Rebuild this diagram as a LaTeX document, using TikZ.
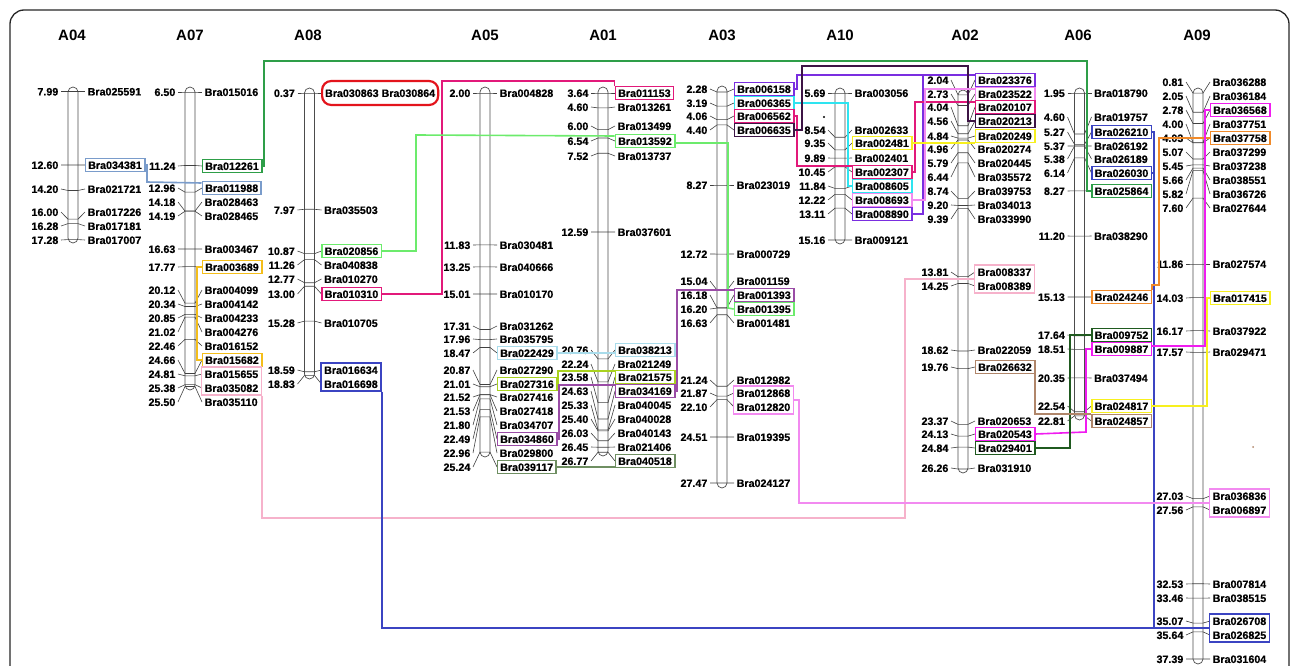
\documentclass[tikz,border=0pt]{standalone}
\usepackage{fontspec}
\setmainfont{Liberation Sans}
\newfontfamily\labfont{Liberation Sans}[FakeBold=0.7]
\usetikzlibrary{fit}
\definecolor{cSteel}{HTML}{7A9CCB}
\definecolor{cGreen}{HTML}{2E9E48}
\definecolor{cLGreen}{HTML}{6CEB6C}
\definecolor{cCrimson}{HTML}{E2197A}
\definecolor{cRed}{HTML}{E3141C}
\definecolor{cBlue}{HTML}{3B44C2}
\definecolor{cGold}{HTML}{F4BE1A}
\definecolor{cLPink}{HTML}{F6B2CB}
\definecolor{cLBlue}{HTML}{A9DCEB}
\definecolor{cYGreen}{HTML}{A9D21F}
\definecolor{cPurple}{HTML}{9A4CA6}
\definecolor{cGGreen}{HTML}{6F8F62}
\definecolor{cPlum}{HTML}{3D1445}
\definecolor{cBViolet}{HTML}{7A2EE0}
\definecolor{cCyan}{HTML}{2EE4F0}
\definecolor{cViolet}{HTML}{F28AF0}
\definecolor{cYellow}{HTML}{F7F01E}
\definecolor{cOrange}{HTML}{F08A2A}
\definecolor{cMag}{HTML}{F01CF0}
\definecolor{cDGreen}{HTML}{1F5A1F}
\definecolor{cBrown}{HTML}{B0866A}
\tikzset{
  lab/.style={anchor=west,inner xsep=3pt,inner ysep=2.7pt,text height=7.9pt,text depth=0pt,font=\labfont\bfseries\fontsize{10.7}{12}\selectfont},
  num/.style={anchor=east,inner xsep=3pt,inner ysep=2.7pt,text height=7.9pt,text depth=0pt,font=\labfont\bfseries\fontsize{10.7}{12}\selectfont},
  tick/.style={line width=0.6pt,draw=black!75},
  chrbar/.style={line width=0.7pt,draw=black!70,rounded corners=5pt},
  bx/.style={draw=#1,line width=1.5pt},
  pairbx/.style={draw=#1,line width=1.5pt,inner sep=0pt},
  cn/.style={draw=#1,line width=1.6pt},
  ttl/.style={font=\bfseries\fontsize{15}{17}\selectfont},
}
\newcommand{\setchr}[4]{\def\chX{#1}\def\chY{#2}\def\chV{#3}\def\chS{#4}}
\newcommand{\drawchr}[2]{\draw[chrbar] (\chX-5,#1) rectangle (\chX+5,#2);}
\newcommand{\mkt}[5][]{%
  \pgfmathsetmacro{\chYc}{\chY+(#2-\chV)*\chS}%
  \draw[tick] (\chX-12,#3) -- (\chX-5,\chYc) -- (\chX+5,\chYc) -- (\chX+12,#3);%
  \node[num] (n#4) at (\chX-11.5,#3) {#2};%
  \node[lab,#1] (#4) at (\chX+11.5,#3) {#5};}
\newcommand{\mk}[4][]{\mkt[#1]{#2}{#3}{#4}{#4}}
\begin{document}
\begin{tikzpicture}[x=1pt,y=-1pt]
\useasboundingbox (0,0) rectangle (1292,666);
\clip (0,0) rectangle (1292,666);
\draw[line width=1.3pt,draw=black!85,rounded corners=14pt] (10,10) rectangle (1289,720);
% titles
\node[ttl] (tA04) at (72,35) {A04};
\node[ttl] (tA07) at (190,35) {A07};
\node[ttl] (tA08) at (308,35) {A08};
\node[ttl] (tA05) at (485,35) {A05};
\node[ttl] (tA01) at (603,35) {A01};
\node[ttl] (tA03) at (722,35) {A03};
\node[ttl] (tA10) at (840,35) {A10};
\node[ttl] (tA02) at (965,35) {A02};
\node[ttl] (tA06) at (1078,35) {A06};
\node[ttl] (tA09) at (1197,35) {A09};
% A04
\setchr{73}{91.5}{7.99}{15.94}
\drawchr{87}{243}
\mk{7.99}{91.5}{Bra025591}
\mk[bx=cSteel]{12.60}{165}{Bra034381}
\mk{14.20}{189}{Bra021721}
\mk{16.00}{212}{Bra017226}
\mk{16.28}{226}{Bra017181}
\mk{17.28}{240}{Bra017007}
% A07
\setchr{190}{92}{6.50}{15.5}
\drawchr{87}{390}
\mk{6.50}{92}{Bra015016}
\mk[bx=cGreen]{11.24}{166}{Bra012261}
\mk[bx=cSteel]{12.96}{188}{Bra011988}
\mk{14.18}{202}{Bra028463}
\mk{14.19}{216}{Bra028465}
\mk{16.63}{249}{Bra003467}
\mk[bx=cGold]{17.77}{267}{Bra003689}
\mk{20.12}{290}{Bra004099}
\mk{20.34}{304}{Bra004142}
\mk{20.85}{318}{Bra004233}
\mk{21.02}{332}{Bra004276}
\mk{22.46}{346}{Bra016152}
\mk[bx=cGold]{24.66}{360}{Bra015682}
\mk{24.81}{374}{Bra015655}
\mk{25.38}{388}{Bra035082}
\mk{25.50}{402}{Bra035110}
\node[pairbx=cLPink,fit=(Bra015655)(Bra035082)] (pkA07) {};
% A08
\setchr{309.5}{93}{0.37}{15.3}
\drawchr{88}{379}
\mkt[draw=cRed,line width=2.2pt,rounded corners=9pt,inner ysep=8pt]{0.37}{93}{Bra030863}{Bra030863 Bra030864}
\mk{7.97}{210}{Bra035503}
\mk[bx=cLGreen]{10.87}{251}{Bra020856}
\mk{11.26}{265}{Bra040838}
\mk{12.77}{279}{Bra010270}
\mk[bx=cCrimson]{13.00}{294}{Bra010310}
\mk{15.28}{323}{Bra010705}
\mk{18.59}{370}{Bra016634}
\mk{18.83}{384}{Bra016698}
\node[pairbx=cBlue,fit=(Bra016634)(Bra016698)] (bluA08) {};
% A05
\setchr{485}{93}{2.00}{15.45}
\drawchr{87}{457}
\mk{2.00}{93}{Bra004828}
\mk{11.83}{245}{Bra030481}
\mk{13.25}{267}{Bra040666}
\mk{15.01}{294}{Bra010170}
\mk{17.31}{326}{Bra031262}
\mk{17.96}{339}{Bra035795}
\mk[bx=cLBlue]{18.47}{353}{Bra022429}
\mk{20.87}{370}{Bra027290}
\mk[bx=cYGreen]{21.01}{384}{Bra027316}
\mk{21.52}{397}{Bra027416}
\mk{21.53}{411}{Bra027418}
\mk{21.80}{425}{Bra034707}
\mk[bx=cPurple]{22.49}{439}{Bra034860}
\mk{22.96}{453}{Bra029800}
\mk[bx=cGGreen]{25.24}{467}{Bra039117}
% A01
\setchr{603}{93}{3.64}{15.53}
\drawchr{87}{456}
\mk[bx=cCrimson]{3.64}{93}{Bra011153}
\mk{4.60}{107}{Bra013261}
\mk{6.00}{126}{Bra013499}
\mk[bx=cLGreen]{6.54}{141}{Bra013592}
\mk{7.52}{156}{Bra013737}
\mk{12.59}{232}{Bra037601}
\mk[bx=cLBlue]{20.76}{350}{Bra038213}
\mk{22.24}{364}{Bra021249}
\mk[bx=cYGreen]{23.58}{377}{Bra021575}
\mk[bx=cPurple]{24.63}{391}{Bra034169}
\mk{25.33}{405}{Bra040045}
\mk{25.40}{419}{Bra040028}
\mk{26.03}{433}{Bra040143}
\mk{26.45}{447}{Bra021406}
\mk[bx=cGGreen]{26.77}{461}{Bra040518}
% A03
\setchr{722}{185}{8.27}{15.52}
\drawchr{86}{488}
\mk[bx=cBViolet]{2.28}{89}{Bra006158}
\mk[bx=cCyan]{3.19}{103}{Bra006365}
\mk[bx=cCrimson]{4.06}{116}{Bra006562}
\mk[bx=cPlum]{4.40}{130}{Bra006635}
\mk{8.27}{185}{Bra023019}
\mk{12.72}{254}{Bra000729}
\mk{15.04}{281}{Bra001159}
\mk[bx=cPurple]{16.18}{295}{Bra001393}
\mk[bx=cLGreen]{16.20}{309}{Bra001395}
\mk{16.63}{323}{Bra001481}
\mk{21.24}{380}{Bra012982}
\mk{21.87}{393}{Bra012868}
\mk{22.10}{407}{Bra012820}
\mk{24.51}{437}{Bra019395}
\mk{27.47}{483}{Bra024127}
\node[pairbx=cViolet,fit=(Bra012868)(Bra012820)] (vioA03) {};
% A10
\setchr{840}{93}{5.69}{15.52}
\drawchr{88}{244}
\mk{5.69}{93}{Bra003056}
\mk{8.54}{130}{Bra002633}
\mk[bx=cYellow]{9.35}{143}{Bra002481}
\mk{9.89}{158}{Bra002401}
\mk[bx=cCrimson]{10.45}{172}{Bra002307}
\mk[bx=cCyan]{11.84}{186}{Bra008605}
\mk[bx=cViolet]{12.22}{200}{Bra008693}
\mk[bx=cBViolet]{13.11}{214}{Bra008890}
\mk{15.16}{240}{Bra009121}
\fill (824,117) circle (1.2);
% A02
\setchr{963}{351}{18.62}{15.45}
\drawchr{90}{473}
\mk[bx=cBViolet]{2.04}{80}{Bra023376}
\mk[bx=cViolet]{2.73}{94}{Bra023522}
\mk[bx=cCrimson]{4.04}{107}{Bra020107}
\mk[bx=cPlum]{4.56}{121}{Bra020213}
\mk[bx=cYellow]{4.84}{136}{Bra020249}
\mk{4.96}{149}{Bra020274}
\mk{5.79}{163}{Bra020445}
\mk{6.44}{177}{Bra035572}
\mk{8.74}{191}{Bra039753}
\mk{9.20}{205}{Bra034013}
\mk{9.39}{219}{Bra033990}
\mk{13.81}{272}{Bra008337}
\mk{14.25}{286}{Bra008389}
\node[pairbx=cLPink,fit=(Bra008337)(Bra008389)] (pkA02) {};
\mk{18.62}{350}{Bra022059}
\mk[bx=cBrown]{19.76}{367}{Bra026632}
\mk{23.37}{421}{Bra020653}
\mk[bx=cMag]{24.13}{434}{Bra020543}
\mk[bx=cDGreen]{24.84}{448}{Bra029401}
\mk{26.26}{468}{Bra031910}
% A06
\setchr{1079.5}{93}{1.95}{15.48}
\drawchr{88}{420}
\mk{1.95}{93}{Bra018790}
\mk{4.60}{117}{Bra019757}
\mk[bx=cBlue]{5.27}{132}{Bra026210}
\mk{5.37}{146}{Bra026192}
\mk{5.38}{159}{Bra026189}
\mk[bx=cBlue]{6.14}{173}{Bra026030}
\mk[bx=cGreen]{8.27}{191}{Bra025864}
\mk{11.20}{236}{Bra038290}
\mk[bx=cOrange]{15.13}{297}{Bra024246}
\mk[bx=cDGreen]{17.64}{335}{Bra009752}
\mk[bx=cMag]{18.51}{349}{Bra009887}
\mk{20.35}{378}{Bra037494}
\mk[bx=cYellow]{22.54}{406}{Bra024817}
\mk[bx=cBrown]{22.81}{421}{Bra024857}
% A09
\setchr{1198}{264}{11.86}{15.47}
\drawchr{88}{664}
\mk{0.81}{82}{Bra036288}
\mk{2.05}{96}{Bra036184}
\mk[bx=cMag]{2.78}{110}{Bra036568}
\mk{4.00}{124}{Bra037751}
\mk[bx=cOrange]{4.03}{138}{Bra037758}
\mk{5.07}{152}{Bra037299}
\mk{5.45}{166}{Bra037238}
\mk{5.66}{180}{Bra038551}
\mk{5.82}{194}{Bra036726}
\mk{7.60}{208}{Bra027644}
\mk{11.86}{264}{Bra027574}
\mk[bx=cYellow]{14.03}{298}{Bra017415}
\mk{16.17}{331}{Bra037922}
\mk{17.57}{352}{Bra029471}
\mk{27.03}{496}{Bra036836}
\mk{27.56}{510}{Bra006897}
\node[pairbx=cViolet,fit=(Bra036836)(Bra006897)] (vioA09) {};
\mk{32.53}{584}{Bra007814}
\mk{33.46}{598}{Bra038515}
\mk{35.07}{621}{Bra026708}
\mk{35.64}{635}{Bra026825}
\node[pairbx=cBlue,fit=(Bra026708)(Bra026825)] (bluA09) {};
\mk{37.39}{659}{Bra031604}
\fill[cBrown] (1253,447) circle (1);
% connectors
\draw[cn=cGreen] (Bra012261.east) -| (264,61) -| (1087,191) -- (Bra025864.west);
\draw[cn=cSteel] (Bra034381.east) -| (147,182) -- ([yshift=5pt]Bra011988.west);
\draw[cn=cGold] (Bra003689.west) -- (197,267) |- (Bra015682.west);
\draw[cn=cLPink] (pkA07.south east) |- (905,518) |- (pkA02.west);
\draw[cn=cCrimson] (Bra010310.east) -| (442,81) -| (Bra011153.north west);
\draw[cn=cLGreen] (Bra020856.east) -| (416,135) -- ([yshift=5pt]Bra013592.west);
\draw[cn=cLGreen] ([yshift=-2pt]Bra013592.east) -| (728,308) -- (Bra001395.west);
\draw[cn=cBlue] (bluA08.south east) |- (bluA09.west);
\draw[cn=cBlue] (Bra026210.east) -| (1154,628);
\draw[cn=cBlue] (Bra026030.east) -- (1154,173);
\draw[cn=cLBlue] (Bra022429.east) -- (Bra038213.west |- Bra022429.east);
\draw[cn=cYGreen] (Bra027316.east) -| (558,371) -- ([yshift=6pt]Bra021575.west);
\draw[cn=cPurple] (Bra034860.east) -| (559,385) -- ([yshift=6pt]Bra034169.west);
\draw[cn=cPurple] (Bra034169.east) -| (677,290) -- ([yshift=5pt]Bra001393.west);
\draw[cn=cGGreen] (Bra039117.east) -- (Bra040518.west |- Bra039117.east);
\draw[cn=cViolet] (vioA03.east) -| (799,503) -- (vioA09.west);
\draw[cn=cOrange] (Bra037758.west) -| (1159,285) -| (Bra024246.north east);
\draw[cn=cMag] (Bra036568.west) -| (1205,346) -- ([yshift=3pt]Bra009887.east);
\draw[cn=cMag] (Bra009887.west) -| (1086,432) -- (Bra020543.east);
\draw[cn=cYellow] (Bra024817.east) -| (1207,298) -- (Bra017415.west);
\draw[cn=cDGreen] (Bra009752.west) -| (1070,448) -- (Bra029401.east);
\draw[cn=cBrown] (Bra026632.east) -| (1035,414) -- ([yshift=7pt]Bra024857.west);
\coordinate (bvj) at (923,75);
\draw[cn=cBViolet] (Bra006158.east) -| (797,75) -- ([yshift=5pt]Bra023376.west);
\draw[cn=cBViolet] (bvj) |- (Bra008890.east);
\draw[cn=cCyan] (Bra006365.east) -| (848,186) -- (Bra008605.west);
\draw[cn=cCrimson] (Bra006562.east) -| (797,166) -- ([yshift=6pt]Bra002307.west);
\draw[cn=cCrimson] (Bra002307.east) -| (915,102) -- ([yshift=5pt]Bra020107.west);
\draw[cn=cPlum] (Bra006635.east) -| (802,66) -| (968,121) -- (Bra020213.west);
\draw[cn=cViolet] (Bra008693.east) -| (925,89) -- ([yshift=5pt]Bra023522.west);
\draw[cn=cYellow] (Bra002481.east) -- (Bra020249.west |- Bra002481.east);
\end{tikzpicture}
\end{document}
